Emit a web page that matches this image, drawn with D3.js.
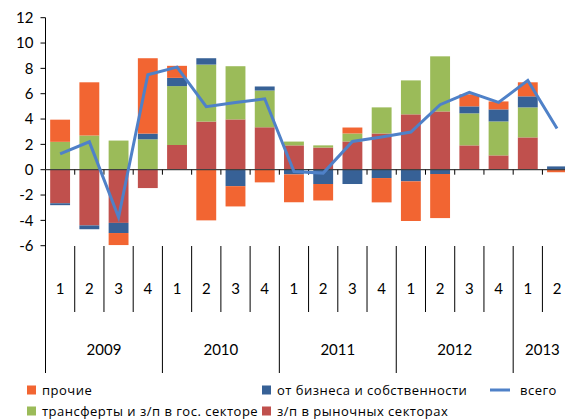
<!DOCTYPE html>
<html>
<head>
<meta charset="utf-8">
<script src="https://cdn.jsdelivr.net/npm/d3@7"></script>
<style>
  body { margin: 0; background: #fff; }
  text { font-family: Lato, "Open Sans", sans-serif; fill: #000; }
  .legend text { font-family: "Open Sans", sans-serif; letter-spacing: 0.5px; }
</style>
</head>
<body>
<svg id="chart" width="565" height="420"></svg>
<script>
// кварталы и годы
const quarters = ["1","2","3","4","1","2","3","4","1","2","3","4","1","2","3","4","1","2"];
const years = ["2009", "2010", "2011", "2012", "2013"];
const yTicks = [-6, -4, -2, 0, 2, 4, 6, 8, 10, 12];

// вклады, п.п.
const rynok = [-2.65, -4.4, -4.2, -1.45, 1.95, 3.8, 3.97, 3.35, 1.92, 1.75, 2.23, 2.86, 4.37, 4.6, 1.92, 1.13, 2.55, 0];
const transfer = [2.2, 2.7, 2.3, 2.4, 4.65, 4.5, 4.2, 2.9, 0.3, 0.17, 0.63, 2.06, 2.68, 4.35, 2.53, 2.68, 2.37, 0];
const biznes = [-0.15, -0.3, -0.8, 0.45, 0.65, 0.5, -1.3, 0.32, -0.37, -1.13, -1.13, -0.66, -0.92, -0.34, 0.55, 0.95, 0.87, 0.26];
const prochie = [1.75, 4.2, -0.95, 5.95, 0.95, -4.0, -1.6, -1.0, -2.2, -1.3, 0.47, -1.92, -3.13, -3.48, 0.95, 0.63, 1.11, -0.2];
const vsego = [1.25, 2.2, -3.75, 7.5, 8.1, 4.97, 5.3, 5.6, -0.15, -0.27, 2.23, 2.58, 2.97, 5.13, 6.1, 5.31, 7.05, 3.26];

const keys = ["rynok", "transfer", "biznes", "prochie"];
const colors = {rynok: "#C0504D", transfer: "#9BBB59", biznes: "#376196", prochie: "#F26532"};

const rows = quarters.map((q, i) => ({
    i: i,
    rynok: rynok[i], transfer: transfer[i], biznes: biznes[i], prochie: prochie[i]
}));

const svg = d3.select("#chart");

const left = 45.5, step = 29.23;
const x = d3.scaleBand()
    .domain(d3.range(quarters.length))
    .range([left, left + step * quarters.length])
    .paddingInner(0.32)
    .paddingOuter(0.16);

const y = d3.scaleLinear().domain([-6, 12]).range([245.7, 17.7]);

const series = d3.stack().keys(keys).offset(d3.stackOffsetDiverging)(rows);

// столбцы
svg.append("g").selectAll("g")
    .data(series)
    .join("g")
    .attr("fill", d => colors[d.key])
    .selectAll("rect")
    .data(d => d)
    .join("rect")
    .attr("x", d => x(d.data.i))
    .attr("width", x.bandwidth())
    .attr("y", d => y(Math.max(d[0], d[1])))
    .attr("height", d => Math.abs(y(d[0]) - y(d[1])));

// ось Y
const yAxis = svg.append("g").attr("transform", `translate(${left},0)`);
yAxis.append("line")
    .attr("x1", 0).attr("x2", 0)
    .attr("y1", y(12)).attr("y2", 373)
    .attr("stroke", "#000").attr("stroke-width", 1);
yAxis.selectAll("line.tick")
    .data(yTicks)
    .join("line")
    .attr("class", "tick")
    .attr("x1", -5).attr("x2", 0)
    .attr("y1", d => y(d)).attr("y2", d => y(d))
    .attr("stroke", "#000");
yAxis.selectAll("text")
    .data(yTicks)
    .join("text")
    .attr("x", -12)
    .attr("y", d => y(d))
    .attr("dy", "0.35em")
    .attr("text-anchor", "end")
    .attr("font-size", "15px")
    .text(d => d);

// нулевая линия и засечки
svg.append("line")
    .attr("x1", left).attr("x2", 565)
    .attr("y1", y(0)).attr("y2", y(0))
    .attr("stroke", "#404040").attr("stroke-width", 1.3);

const bounds = d3.range(1, quarters.length + 1);
svg.selectAll("line.zt")
    .data(bounds)
    .join("line")
    .attr("class", "zt")
    .attr("x1", d => left + d * step).attr("x2", d => left + d * step)
    .attr("y1", y(0)).attr("y2", y(0) + 5)
    .attr("stroke", "#000");

// подписи категорий
svg.selectAll("line.sep")
    .data(bounds)
    .join("line")
    .attr("class", "sep")
    .attr("x1", d => left + d * step).attr("x2", d => left + d * step)
    .attr("y1", 246)
    .attr("y2", d => d % 4 === 0 ? 373 : 312)
    .attr("stroke", "#000");

svg.selectAll("text.q")
    .data(quarters)
    .join("text")
    .attr("class", "q")
    .attr("x", (d, i) => x(i) + x.bandwidth() / 2)
    .attr("y", 289)
    .attr("dy", "0.35em")
    .attr("text-anchor", "middle")
    .attr("font-size", "15px")
    .text(d => d);

svg.selectAll("text.yr")
    .data(years)
    .join("text")
    .attr("class", "yr")
    .attr("x", (d, i) => {
        const a = left + i * 4 * step;
        const b = Math.min(left + Math.min((i + 1) * 4, quarters.length) * step, 565);
        return i === years.length - 1 ? a + step : (a + b) / 2;
    })
    .attr("y", 350)
    .attr("dy", "0.35em")
    .attr("text-anchor", "middle")
    .attr("font-size", "15px")
    .text(d => d);

// линия "всего"
const line = d3.line()
    .x((d, i) => x(i) + x.bandwidth() / 2)
    .y(d => y(d));
svg.append("path")
    .datum(vsego)
    .attr("fill", "none")
    .attr("stroke", "#4F81C8")
    .attr("stroke-width", 3)
    .attr("d", line);

// легенда
const legend = [
    {label: "прочие", color: colors.prochie, x: 27, y: 390},
    {label: "от бизнеса и собственности", color: colors.biznes, x: 262, y: 390},
    {label: "трансферты и з/п в гос. секторе", color: colors.transfer, x: 27, y: 411},
    {label: "з/п в рыночных секторах", color: colors.rynok, x: 262, y: 411}
];
const lgRoot = svg.append("g").attr("class", "legend");
const lg = lgRoot.selectAll("g")
    .data(legend)
    .join("g")
    .attr("transform", d => `translate(${d.x},${d.y})`);
lg.append("rect")
    .attr("x", 0).attr("y", -4.5)
    .attr("width", 9).attr("height", 9)
    .attr("fill", d => d.color);
lg.append("text")
    .attr("x", 15)
    .attr("dy", "0.35em")
    .attr("font-size", "13px")
    .text(d => d.label);

lgRoot.append("line")
    .attr("x1", 490).attr("x2", 510)
    .attr("y1", 390).attr("y2", 390)
    .attr("stroke", "#4F81C8").attr("stroke-width", 3);
lgRoot.append("text")
    .attr("x", 520).attr("y", 390)
    .attr("dy", "0.35em")
    .attr("font-size", "13px")
    .text("всего");
</script>
</body>
</html>
